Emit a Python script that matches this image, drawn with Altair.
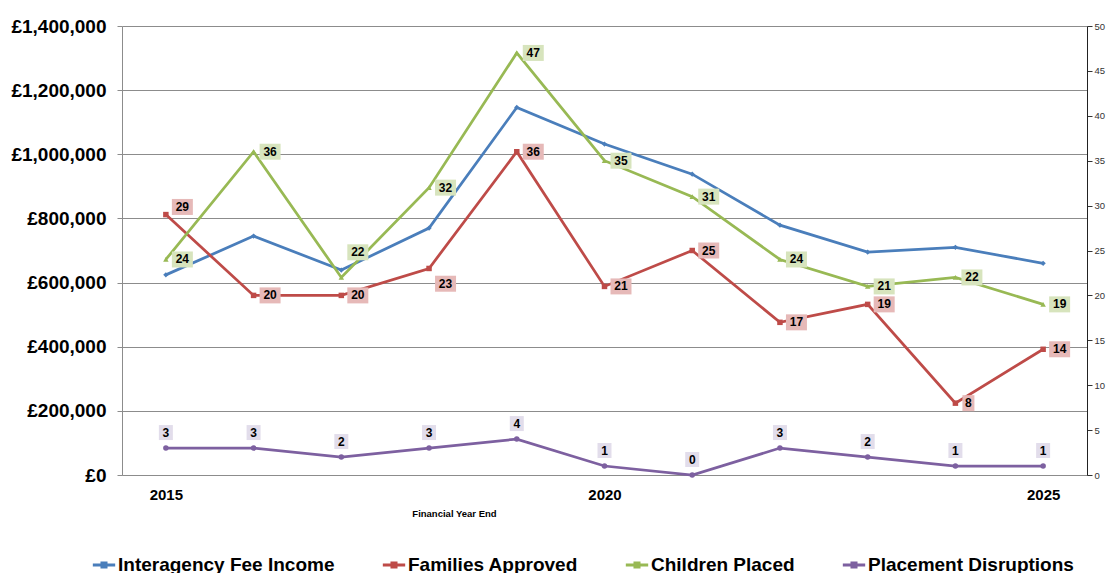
import altair as alt
import pandas as pd

# ---------------- data ----------------
years = [2015, 2016, 2017, 2018, 2019, 2020, 2021, 2022, 2023, 2024, 2025]
income = [624000, 745000, 639000, 770000, 1146000, 1032000, 938000, 779000, 695000, 710000, 660000]
families = [29, 20, 20, 23, 36, 21, 25, 17, 19, 8, 14]
children = [24, 36, 22, 32, 47, 35, 31, 24, 21, 22, 19]
disruptions = [3, 3, 2, 3, 4, 1, 0, 3, 2, 1, 1]

series_names = ["Interagency Fee Income", "Families Approved", "Children Placed", "Placement Disruptions"]
series_colors = ["#4A7EBB", "#BE4B48", "#98B954", "#7D60A0"]
label_bg = {"Families Approved": "#E6B9B8", "Children Placed": "#D7E4BD", "Placement Disruptions": "#E2DDEB"}

money_ticks = [0, 200000, 400000, 600000, 800000, 1000000, 1200000, 1400000]
count_ticks = [0, 5, 10, 15, 20, 25, 30, 35, 40, 45, 50]
year_ticks = [2015, 2020, 2025]

# label nudges (in right-axis units) for a few labels placed off-centre
label_nudge = {("Families Approved", 2015): 0.85, ("Families Approved", 2018): -1.7, ("Children Placed", 2017): 2.8}

rows = []
for name, vals in zip(series_names, [income, families, children, disruptions]):
    for yr, v in zip(years, vals):
        rows.append({"year": yr, "series": name, "value": v,
                     "label_pos": v + label_nudge.get((name, yr), 0.0),
                     "label": str(v)})
df = pd.DataFrame(rows)

FONT = "Liberation Sans"

x_axis = alt.Axis(values=year_ticks, format="d", title="Financial Year End", grid=False, ticks=False,
                  domainColor="#8c8c8c", labelFontSize=15, labelFontWeight="bold", labelColor="#000",
                  labelPadding=12, titleFontSize=9.5, titleFontWeight="bold", titleColor="#000",
                  titleX=332, titleY=38, titleAlign="center", titleBaseline="middle")
x_scale = alt.Scale(domain=[2014.5, 2025.5], nice=False, zero=False)


def xenc():
    return alt.X("year:Q", scale=x_scale, axis=x_axis)


color_enc = alt.Color("series:N", scale=alt.Scale(domain=series_names, range=series_colors),
                      legend=alt.Legend(orient="none", legendX=-31, legendY=526, direction="horizontal",
                                        title=None, padding=0, columnPadding=41, labelOffset=1,
                                        labelFontSize=19, labelFontWeight="bold", labelColor="#000",
                                        labelLimit=400,
                                        symbolType="M-1,0L1,0M-0.18,-0.18L0.18,-0.18L0.18,0.18L-0.18,0.18Z",
                                        symbolSize=500, symbolStrokeWidth=3))

left_axis = alt.Axis(values=money_ticks, labelExpr="'£' + format(datum.value, ',')", title=None,
                     orient="left", grid=True, gridColor="#8c8c8c", gridWidth=1,
                     tickSize=5, tickColor="#8c8c8c", domainColor="#8c8c8c",
                     labelFontSize=19, labelFontWeight="bold", labelColor="#000", labelPadding=11)
left_scale = alt.Scale(domain=[0, 1400000], nice=False, zero=True)

right_axis = alt.Axis(values=count_ticks, title=None, orient="right", grid=False,
                      tickSize=5, tickColor="#333", domainColor="#222",
                      labelFontSize=9.5, labelColor="#333", labelPadding=2)
right_scale = alt.Scale(domain=[0, 50], nice=False, zero=True)

left_layer = alt.Chart(df[df.series == series_names[0]]).mark_line(
    strokeWidth=2.75, point=alt.OverlayMarkDef(shape="diamond", size=28, filled=True)
).encode(x=xenc(), y=alt.Y("value:Q", scale=left_scale, axis=left_axis), color=color_enc)

shapes = {"Families Approved": "square", "Children Placed": "triangle-up", "Placement Disruptions": "circle"}

right_layers = []
for name in series_names[1:]:
    sub = df[df.series == name]
    right_layers.append(
        alt.Chart(sub).mark_line(
            strokeWidth=2.75, point=alt.OverlayMarkDef(shape=shapes[name], size=30, filled=True)
        ).encode(x=xenc(), y=alt.Y("value:Q", scale=right_scale, axis=right_axis), color=color_enc)
    )


def labels(sub, bg, x0, x1, y0, y1):
    base = alt.Chart(sub).encode(x=xenc(), y=alt.Y("label_pos:Q", scale=right_scale, axis=right_axis))
    rect = base.mark_rect(color=bg, xOffset=x0, x2Offset=x1, yOffset=y0, y2Offset=y1).encode(
        x2=alt.X2("year:Q"), y2=alt.Y2("label_pos:Q"))
    text = base.mark_text(dx=(x0 + x1) / 2, dy=(y0 + y1) / 2, fontSize=12, fontWeight="bold",
                          color="#000", baseline="middle", align="center").encode(text="label:N")
    return [rect, text]


label_layers = []
for name in ["Families Approved", "Children Placed"]:
    sub = df[df.series == name]
    two = sub[sub.value >= 10]
    one = sub[sub.value < 10]
    label_layers += labels(two, label_bg[name], 6, 27, -8, 8)
    if len(one):
        label_layers += labels(one, label_bg[name], 7, 19, -8, 8)
sub = df[df.series == "Placement Disruptions"]
label_layers += labels(sub, label_bg["Placement Disruptions"], -7, 7, -23, -8)

right_group = alt.layer(*right_layers, *label_layers)

chart = alt.layer(left_layer, right_group).resolve_scale(y="independent").properties(
    width=965, height=449,
    padding={"left": 122, "top": 26, "right": 22, "bottom": 98},
    autosize=alt.AutoSizeParams(type="none"),
    background="#ffffff",
).configure(font=FONT).configure_view(stroke="transparent")

chart.save("out.html", embed_options={"renderer": "svg", "actions": False})
